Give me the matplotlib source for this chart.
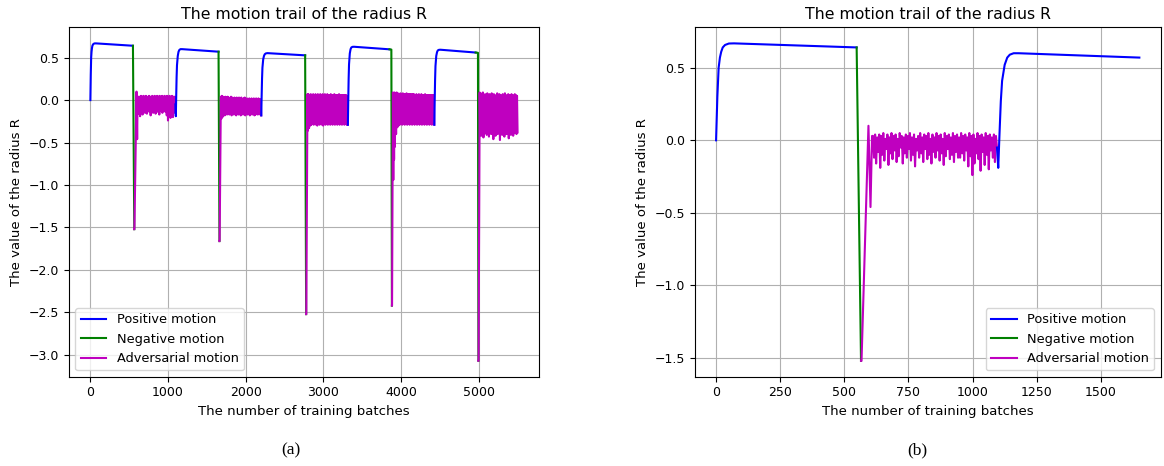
import numpy as np
import matplotlib
matplotlib.use("Agg")
import matplotlib.pyplot as plt

# ---------------- data ----------------
# cycle 1 (shared by both panels)
pos1_x = [0, 5, 10, 15, 20, 26, 35, 50, 70, 548]
pos1_y = [0.0, 0.30, 0.50, 0.57, 0.61, 0.64, 0.657, 0.667, 0.668, 0.640]
neg1_x = [548, 565]
neg1_y = [0.640, -1.52]
adv1_head_x = [565, 567, 594, 602, 608]
adv1_head_y = [-1.52, -1.52, 0.10, -0.46, 0.03]
adv1_noise = [
    0.03, -0.12, 0.04, -0.16, 0.02, -0.08, 0.04, -0.19, 0.03, -0.10,
    0.05, -0.14, 0.01, -0.06, 0.04, -0.17, 0.02, -0.09, 0.05, -0.13,
    0.03, -0.07, 0.04, -0.15, 0.01, -0.11, 0.05, -0.05, 0.03, -0.16,
    0.02, -0.09, 0.04, -0.12, 0.03, -0.06, 0.05, -0.14, 0.02, -0.10,
    0.04, -0.18, 0.01, -0.07, 0.03, -0.12, 0.05, -0.09, 0.02, -0.15,
    0.04, -0.06, 0.03, -0.13, 0.05, -0.10, 0.01, -0.16, 0.04, -0.08,
    0.02, -0.12, 0.05, -0.07, 0.03, -0.14, 0.04, -0.09, 0.01, -0.17,
    0.05, -0.11, 0.03, -0.06, 0.04, -0.13, 0.02, -0.10, 0.05, -0.15,
    0.03, -0.08, 0.04, -0.12, 0.02, -0.12, 0.05, -0.09, 0.03, -0.14,
    0.04, -0.07, 0.02, -0.18, 0.05, -0.11, 0.03, -0.24, 0.04, -0.16,
    0.01, -0.09, 0.05, -0.13, 0.03, -0.21, 0.04, -0.08, 0.02, -0.17,
    0.05, -0.10, 0.03, -0.20, 0.04, -0.07, 0.02, -0.12, 0.04, -0.15,
    0.03, -0.05,
]
adv1_range = [612, 1095]

# cycle 2
pos2_x = [1095, 1100, 1105, 1110, 1115, 1125, 1135, 1145, 1160, 1180, 1650]
pos2_y = [-0.05, -0.19, 0.05, 0.27, 0.41, 0.52, 0.57, 0.59, 0.60, 0.600, 0.570]
neg2_x = [1650, 1662]
neg2_y = [0.570, -1.66]
adv2_head_x = [1662, 1664, 1680]
adv2_head_y = [-1.66, -1.66, 0.04]
adv2_noise = [
    -0.22, 0.05, -0.20, 0.04, -0.17, 0.03, -0.18, 0.04, -0.16, 0.03,
    -0.17, 0.04, -0.15, 0.03, -0.17, 0.02, -0.16, 0.04, -0.18, 0.03,
    -0.15, 0.02, -0.17, 0.03, -0.16, 0.02, -0.18, 0.03, -0.15, 0.02,
    -0.17, 0.03, -0.16, 0.02, -0.18, 0.03, -0.15, 0.01, -0.17, 0.02,
    -0.16, 0.03, -0.18, 0.01, -0.15, 0.02, -0.17, 0.01, -0.16, 0.02,
    -0.18, 0.01, -0.15, 0.02, -0.17, 0.01, -0.16, 0.02, -0.18, 0.01,
    -0.17, 0.02, -0.16, 0.01, -0.17, 0.02, -0.16, 0.01, -0.17, 0.01,
    -0.18,
]
adv2_range = [1686, 2200]

# cycle 3
pos3_x = [2200, 2205, 2210, 2215, 2225, 2235, 2245, 2260, 2280, 2765]
pos3_y = [-0.18, 0.05, 0.25, 0.38, 0.48, 0.52, 0.54, 0.550, 0.553, 0.527]
neg3_x = [2765, 2778]
neg3_y = [0.527, -2.52]
adv3_head_x = [2778, 2780, 2795]
adv3_head_y = [-2.52, -2.52, 0.07]
adv3_noise = [
    -0.36, 0.07, -0.33, 0.06, -0.30, 0.07, -0.29, 0.06, -0.28, 0.07,
    -0.29, 0.06, -0.28, 0.07, -0.29, 0.06, -0.30, 0.07, -0.28, 0.06,
    -0.29, 0.07, -0.28, 0.06, -0.29, 0.07, -0.30, 0.06, -0.28, 0.07,
    -0.29, 0.06, -0.28, 0.07, -0.29, 0.06, -0.28, 0.06, -0.29, 0.07,
    -0.28, 0.06, -0.29, 0.06, -0.28, 0.07, -0.29, 0.06, -0.28, 0.06,
    -0.29, 0.06, -0.28, 0.07, -0.29, 0.06, -0.28, 0.06, -0.29, 0.06,
    -0.28, 0.06, -0.29, 0.06, -0.28, 0.06, -0.29, 0.05, -0.29,
]
adv3_range = [2800, 3315]

# cycle 4
pos4_x = [3315, 3320, 3325, 3330, 3340, 3350, 3360, 3375, 3395, 3850]
pos4_y = [-0.29, 0.00, 0.25, 0.42, 0.55, 0.60, 0.62, 0.627, 0.628, 0.598]
neg4_x = [3850, 3875, 3882]
neg4_y = [0.598, 0.595, -2.42]
adv4_head_x = [3882, 3884, 3895, 3900, 3905, 3910, 3915]
adv4_head_y = [-2.42, -2.42, 0.09, -0.94, 0.08, -0.70, 0.09]
adv4_noise = [
    -0.55, 0.08, -0.40, 0.09, -0.32, 0.08, -0.30, 0.07, -0.29, 0.08,
    -0.28, 0.07, -0.29, 0.08, -0.28, 0.07, -0.29, 0.07, -0.28, 0.08,
    -0.29, 0.07, -0.28, 0.07, -0.29, 0.07, -0.28, 0.07, -0.29, 0.07,
    -0.28, 0.07, -0.29, 0.06, -0.28, 0.07, -0.29, 0.06, -0.28, 0.07,
    -0.29, 0.06, -0.28, 0.07, -0.29, 0.06, -0.28, 0.06, -0.29, 0.07,
    -0.28, 0.06, -0.29, 0.06, -0.28, 0.06, -0.29, 0.06, -0.28, 0.06,
    -0.29, 0.06, -0.28, 0.06, -0.29,
]
adv4_range = [3920, 4428]

# cycle 5
pos5_x = [4428, 4433, 4438, 4443, 4453, 4463, 4473, 4488, 4508, 4960]
pos5_y = [-0.29, 0.00, 0.24, 0.40, 0.52, 0.565, 0.585, 0.592, 0.593, 0.560]
neg5_x = [4960, 4990, 4996]
neg5_y = [0.560, 0.557, -3.07]
adv5_head_x = [4996, 4998, 5012]
adv5_head_y = [-3.07, -3.07, 0.09]
adv5_noise = [
    -0.38, 0.08, -0.42, 0.06, -0.36, 0.09, -0.44, 0.05, -0.39, 0.07,
    -0.35, 0.06, -0.41, 0.08, -0.37, 0.04, -0.43, 0.07, -0.36, 0.05,
    -0.40, 0.08, -0.34, 0.06, -0.46, 0.07, -0.38, 0.05, -0.42, 0.06,
    -0.36, 0.08, -0.40, 0.05, -0.35, 0.07, -0.47, 0.06, -0.38, 0.04,
    -0.41, 0.07, -0.36, 0.05, -0.43, 0.08, -0.37, 0.06, -0.40, 0.05,
    -0.34, 0.07, -0.45, 0.06, -0.38, 0.05, -0.41, 0.07, -0.36, 0.06,
    -0.42, 0.05, -0.39, 0.07, -0.37, 0.06, -0.40, 0.05, -0.38,
]
adv5_range = [5018, 5500]

labels = ["Positive motion", "Negative motion", "Adversarial motion"]
colors = ["b", "g", "m"]
x_ticks_a = [0, 1000, 2000, 3000, 4000, 5000]
x_ticks_b = [0, 250, 500, 750, 1000, 1250, 1500]
y_ticks_a = [0.5, 0.0, -0.5, -1.0, -1.5, -2.0, -2.5, -3.0]
y_ticks_b = [0.5, 0.0, -0.5, -1.0, -1.5]
title = "The motion trail of the radius R"
xlabel = "The number of training batches"
ylabel = "The value of the radius R"


def adv_series(head_x, head_y, noise, rng):
    nx = np.linspace(rng[0], rng[1], len(noise))
    return np.concatenate([head_x, nx]), np.concatenate([head_y, noise])


cycles = [
    (pos1_x, pos1_y, neg1_x, neg1_y, adv1_head_x, adv1_head_y, adv1_noise, adv1_range),
    (pos2_x, pos2_y, neg2_x, neg2_y, adv2_head_x, adv2_head_y, adv2_noise, adv2_range),
    (pos3_x, pos3_y, neg3_x, neg3_y, adv3_head_x, adv3_head_y, adv3_noise, adv3_range),
    (pos4_x, pos4_y, neg4_x, neg4_y, adv4_head_x, adv4_head_y, adv4_noise, adv4_range),
    (pos5_x, pos5_y, neg5_x, neg5_y, adv5_head_x, adv5_head_y, adv5_noise, adv5_range),
]

plt.rcParams["font.family"] = ["DejaVu Sans"]
fig = plt.figure(figsize=(11.64, 4.66), dpi=100)
ax1 = fig.add_axes([0.0593, 0.1916, 0.4037, 0.7494])
ax2 = fig.add_axes([0.5970, 0.1916, 0.4000, 0.7494])

lw = 1.5
# panel (a)
for i, (px, py, nx, ny, hx, hy, noise, rng) in enumerate(cycles):
    ax1.plot(px, py, color=colors[0], lw=lw, label=labels[0] if i == 0 else None)
    ax1.plot(nx, ny, color=colors[1], lw=lw, label=labels[1] if i == 0 else None)
    axx, axy = adv_series(hx, hy, noise, rng)
    ax1.plot(axx, axy, color=colors[2], lw=lw, label=labels[2] if i == 0 else None)

# panel (b): first 1650 batches
ax2.plot(pos1_x, pos1_y, color=colors[0], lw=lw, label=labels[0])
ax2.plot(neg1_x, neg1_y, color=colors[1], lw=lw, label=labels[1])
bx, by = adv_series(adv1_head_x, adv1_head_y, adv1_noise, adv1_range)
ax2.plot(bx, by, color=colors[2], lw=lw, label=labels[2])
ax2.plot(pos2_x, pos2_y, color=colors[0], lw=lw)

for ax, xt, yt, loc in [(ax1, x_ticks_a, y_ticks_a, "lower left"),
                         (ax2, x_ticks_b, y_ticks_b, "lower right")]:
    ax.set_title(title, fontsize=11.3)
    ax.set_xlabel(xlabel, fontsize=9.5)
    ax.set_ylabel(ylabel, fontsize=9.5)
    ax.set_xticks(xt)
    ax.set_yticks(yt)
    ax.tick_params(labelsize=9)
    ax.grid(True)
    ax.legend(loc=loc, fontsize=9.3)

fig.text(291 / 1164, 1 - 450 / 466, "(a)", fontsize=12.5, family="Liberation Serif",
         ha="center", va="center")
fig.text(917 / 1164, 1 - 450 / 466, "(b)", fontsize=12.5, family="Liberation Serif",
         ha="center", va="center")

fig.savefig("out.png", dpi=100)
